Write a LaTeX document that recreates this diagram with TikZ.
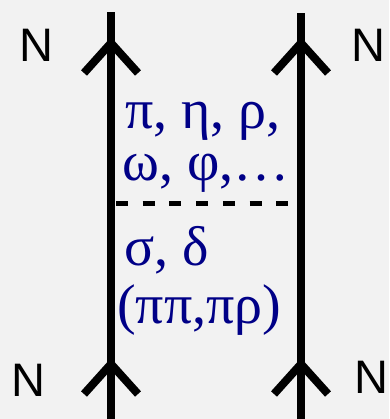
\documentclass[tikz,border=0pt]{standalone}
\usepackage{fontspec}
\setmainfont{Liberation Serif}
\newfontfamily\nucfont{Liberation Sans}
\usepackage{xcolor}
\definecolor{mesonblue}{RGB}{0,0,135}
\definecolor{bggray}{RGB}{242,242,242}

\begin{document}
\begin{tikzpicture}[x=1pt,y=-1pt,
    fermion/.style={line width=8pt},
    chev/.style={line width=8pt},
    nuc/.style={inner sep=0pt, font=\nucfont\fontsize{47}{47}\selectfont},
    meson/.style={inner sep=0pt, anchor=base west, text=mesonblue, font=\fontsize{56}{56}\selectfont}]
  \def\Lx{111}
  \def\Rx{301}

  \fill[bggray] (0,0) rectangle (389,419);
  \useasboundingbox (0,0) rectangle (389,419);

  \coordinate (lTop) at (\Lx,12);
  \coordinate (lBot) at (\Lx,419);
  \coordinate (rTop) at (\Rx,13);
  \coordinate (rBot) at (\Rx,419);
  \coordinate (lArrT) at (\Lx,43);
  \coordinate (rArrT) at (\Rx,43);
  \coordinate (lArrB) at (\Lx,364);
  \coordinate (rArrB) at (\Rx,364);

  \draw[fermion] (lBot) -- (lTop);
  \draw[fermion] (rBot) -- (rTop);
  \foreach \a in {lArrT,rArrT,lArrB,rArrB}
    \draw[chev] (\a) ++(-27,30) -- (\a) -- ++(27,30);

  \node[nuc] (nTL) at (36,45) {N};
  \node[nuc] (nTR) at (368,45) {N};
  \node[nuc] (nBL) at (28,380) {N};
  \node[nuc] (nBR) at (371,377) {N};

  \node[meson] (pse) at (125,129) {π, η, ρ,};
  \node[meson] (vec) at (122,181) {ω, φ,…};
  \node[meson] (sca) at (124,265) {σ, δ};
  \node[meson] (two) at (117,323) {(ππ,πρ)};

  \coordinate (cutL) at (116,204);
  \coordinate (cutR) at (292,204);
  \draw[line width=5pt, dash pattern=on 12pt off 14.7pt] (cutL) -- (cutR);
\end{tikzpicture}
\end{document}
